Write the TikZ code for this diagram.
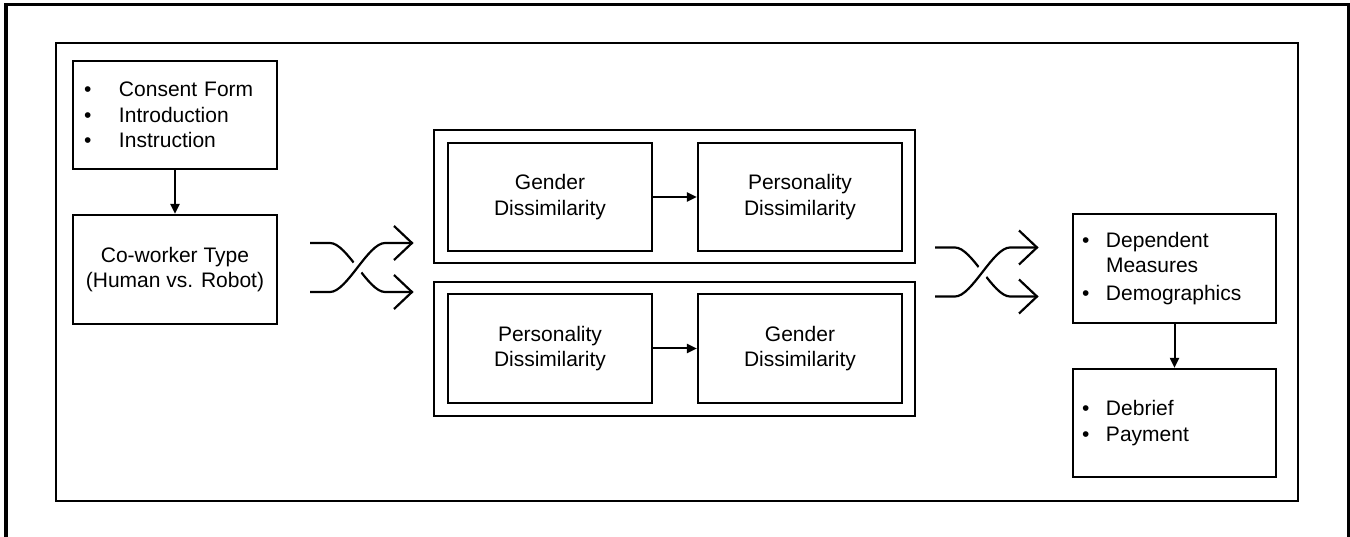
\documentclass[tikz,border=0pt]{standalone}
\usepackage{fontspec}
\setmainfont{Liberation Sans}
\usetikzlibrary{arrows.meta}
\begin{document}
\begin{tikzpicture}[x=1pt,y=-1pt,
  box/.style={draw,line width=2.2pt,minimum width=204pt,minimum height=108pt,inner sep=0pt,align=center,
    font=\fontsize{21}{25.5}\selectfont},
  listbox/.style={box,text width=182pt,inner xsep=11pt,align=left},
  frame/.style={draw,line width=2.4pt,inner sep=0pt},
  link/.style={line width=2pt,-{Triangle[length=10pt,width=9pt]}},
  swap/.pic={
    \draw[line width=2.2pt] (0,0) -- (20,0) .. controls (37,0) and (58,49) .. (75,49) -- (102,49);
    \draw[line width=2.2pt,preaction={draw=white,line width=12pt}] (0,49) -- (20,49) .. controls (37,49) and (58,0) .. (75,0) -- (102,0);
    \draw[line width=2.2pt,line join=miter] (84,-17) -- (102,0) -- (84,17);
    \draw[line width=2.2pt,line join=miter] (84,32) -- (102,49) -- (84,66);
  }
]
\useasboundingbox (0,0) rectangle (1350,537);
% outer frame (open at bottom)
\draw[line width=3.8pt] (6,545) -- (6,4.5) -- (1348.5,4.5) -- (1348.5,545);
% inner frame
\draw[line width=2.4pt] (56,43) rectangle (1298,501);

% left column
\node[listbox] (intro) at (175,115) {\makebox[35pt][l]{•}Consent Form\\\makebox[35pt][l]{•}Introduction\\\makebox[35pt][l]{•}Instruction};
\node[box,minimum height=109pt] (cotype) at (175,269.5) {Co-worker Type\\(Human vs. Robot)};
\draw[link] (intro.south) -- (cotype.north);

% middle containers
\node[frame,minimum width=481pt,minimum height=133pt] (orderA) at (674.5,196.5) {};
\node[frame,minimum width=481pt,minimum height=134pt] (orderB) at (674.5,349) {};
\node[box] (gA) at (550,197) {Gender\\Dissimilarity};
\node[box] (pA) at (800,197) {Personality\\Dissimilarity};
\node[box,minimum height=109pt] (pB) at (550,348.5) {Personality\\Dissimilarity};
\node[box,minimum height=109pt] (gB) at (800,348.5) {Gender\\Dissimilarity};
\draw[link] (gA.east) -- (pA.west);
\draw[link] (pB.east) -- (gB.west);

% right column
\node[listbox,minimum width=203pt,minimum height=109pt,text width=185pt,inner xsep=9pt] (measures) at (1174.5,268.5)
  {\makebox[24pt][l]{•}Dependent\\\hspace*{24pt}Measures\\[2pt]\makebox[24pt][l]{•}Demographics};
\node[listbox,minimum width=203pt,text width=185pt,inner xsep=9pt] (debrief) at (1174.5,423)
  {\makebox[24pt][l]{•}Debrief\\\makebox[24pt][l]{•}Payment};
\draw[link] (measures.south) -- (debrief.north);

% crossing arrows
\pic at (310,243) {swap};
\pic at (935,247.5) {swap};
\end{tikzpicture}
\end{document}
